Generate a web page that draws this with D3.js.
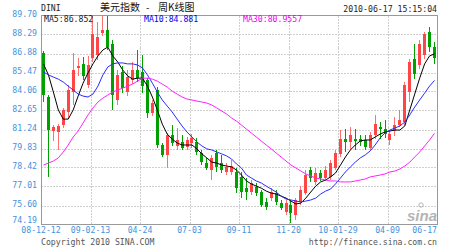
<!DOCTYPE html>
<html>
<head>
<meta charset="utf-8">
<script src="https://cdn.jsdelivr.net/npm/d3@7"></script>
<style>
  body { margin: 0; background: #fff; }
  svg { display: block; }
</style>
</head>
<body>
<script>
// DINI weekly K-line, 2008-12-12 .. 2010-06-17 (80 weeks)
const opens = [86.92,83.65,81.13,81.05,81.57,82.54,84.02,85.81,86.11,84.53,
  86.55,86.77,88.40,88.62,87.58,83.43,85.51,84.02,84.90,85.66,
  85.51,84.90,82.47,84.17,80.09,79.35,80.83,80.02,80.31,79.94,
  80.24,80.31,79.50,78.75,78.23,79.50,78.75,78.09,78.09,78.09,
  77.72,76.89,76.60,76.97,76.60,75.86,76.15,76.52,75.78,75.12,
  75.64,74.90,75.86,76.52,78.23,77.35,78.01,77.64,77.72,78.38,
  79.43,80.53,80.31,80.53,80.53,80.46,79.87,80.83,81.42,81.27,
  80.46,81.13,81.57,81.79,84.02,86.47,86.03,86.77,88.47,87.36];
const highs = [87.07,83.80,81.57,81.64,82.84,84.53,86.92,86.55,86.62,86.70,
  89.65,89.21,89.70,89.70,87.88,85.66,85.96,85.66,86.25,87.14,
  86.77,85.07,83.43,84.39,80.24,80.98,81.57,81.35,80.83,80.68,
  80.90,80.61,79.72,79.13,79.35,79.72,79.35,78.75,78.97,78.38,
  78.09,77.64,77.49,77.27,76.75,76.15,76.89,76.75,76.01,76.01,
  76.01,76.15,77.04,78.23,78.46,78.38,78.23,78.53,78.97,79.72,
  81.20,81.27,81.42,81.27,80.83,80.83,81.05,82.32,81.79,81.94,
  81.20,82.16,82.69,84.76,86.47,87.58,87.88,88.47,88.84,87.73];
const lows = [83.28,77.72,80.39,79.72,81.35,82.09,83.06,85.22,84.90,84.31,
  86.25,86.40,88.18,87.14,82.69,83.06,83.94,83.72,84.61,84.76,
  83.94,82.09,82.25,79.87,79.20,78.38,80.02,79.72,79.72,79.72,
  79.87,79.35,78.60,78.23,77.49,78.09,78.01,77.86,77.86,76.52,
  76.15,76.01,76.38,76.30,75.49,75.27,75.93,75.64,75.27,74.90,
  74.31,74.53,75.64,76.38,77.35,77.11,77.42,77.42,77.49,78.23,
  79.20,79.57,79.80,79.72,80.02,79.72,79.72,80.53,80.53,80.61,
  80.09,80.76,81.42,81.57,83.28,84.98,85.73,86.47,86.99,86.11];
const closes = [83.80,81.20,81.42,81.50,82.69,84.17,85.66,85.96,85.22,86.03,
  88.32,88.10,88.62,87.36,83.80,85.29,84.31,85.15,85.66,85.07,
  84.46,82.47,83.20,80.09,79.35,80.83,80.24,80.46,79.87,80.46,
  80.61,79.57,78.82,78.38,79.13,78.46,78.23,78.46,78.53,76.89,
  76.60,76.60,77.27,76.52,75.64,75.49,76.60,75.86,75.42,75.78,
  75.05,76.01,76.75,77.86,77.64,78.01,77.64,78.23,78.75,79.50,
  80.53,80.31,80.83,80.39,80.31,79.94,80.83,81.64,81.27,80.90,
  80.90,81.57,81.94,84.53,86.25,85.37,87.58,88.32,87.36,86.55];

// moving averages as drawn
const ma5 = [86.11,85.29,84.02,82.69,82.01,82.01,82.69,83.72,84.68,85.44,
  86.11,86.70,87.14,87.36,86.70,86.25,85.66,85.22,84.98,85.05,
  85.05,84.46,83.65,82.69,81.64,80.90,80.53,80.24,80.09,80.09,
  80.09,79.80,79.43,79.13,78.82,78.75,78.60,78.53,78.46,78.23,
  77.86,77.42,77.20,77.04,76.89,76.67,76.52,76.45,76.30,76.15,
  75.93,75.71,75.78,76.15,76.60,77.04,77.35,77.49,77.72,78.01,
  78.60,79.20,79.72,80.09,80.39,80.46,80.46,80.68,80.90,81.05,
  81.13,81.20,81.20,81.50,82.69,83.87,85.05,86.11,86.70,86.852];
const ma10 = [85.51,85.29,85.13,84.98,84.76,84.46,84.17,83.87,83.72,83.65,
  83.87,84.46,85.29,85.88,86.11,86.18,86.18,86.11,86.11,86.03,
  85.81,85.29,84.68,84.02,83.43,82.98,82.54,82.01,81.50,81.05,
  80.68,80.31,80.02,79.80,79.72,79.57,79.43,79.28,79.05,78.68,
  78.38,77.86,77.64,77.42,77.27,77.04,76.82,76.60,76.30,76.08,
  76.01,75.93,75.86,75.93,76.01,76.15,76.45,76.67,76.82,77.20,
  77.64,78.09,78.46,78.82,79.13,79.35,79.65,80.09,80.61,80.98,
  81.20,81.35,81.50,81.79,82.32,82.91,83.43,83.94,84.46,84.881];
const ma30 = [78.60,78.75,78.90,79.13,79.57,80.09,80.68,81.13,81.72,82.32,
  82.84,83.28,83.57,83.80,84.02,84.17,84.31,84.46,84.61,84.83,
  85.05,85.05,84.98,84.83,84.61,84.39,84.09,83.87,83.65,83.50,
  83.43,83.35,83.28,83.20,83.06,82.84,82.61,82.39,82.09,81.86,
  81.57,81.27,80.98,80.68,80.39,80.09,79.80,79.50,79.20,78.90,
  78.60,78.38,78.16,77.94,77.79,77.64,77.57,77.49,77.42,77.42,
  77.35,77.35,77.35,77.42,77.49,77.57,77.72,77.79,77.86,77.94,
  78.09,78.16,78.31,78.53,78.82,79.20,79.57,80.02,80.46,80.9557];

const yTicks = [89.70,88.29,86.88,85.47,84.06,82.65,81.24,79.83,78.42,77.01,75.60,74.19];
const xTickIdx = [0,10,20,30,40,50,60,70,80];
const xTickLabels = ["08-12-12","09-02-13","04-24","07-03","09-11","11-20","10-01-29","04-09","06-17"];

const width = 450, height = 248;
const plotLeft = 41, plotRight = 437, plotTop = 15.5, plotBottom = 224.5;
const mono = "'DejaVu Sans Mono', monospace";
const cjk = "'Noto Sans CJK SC', sans-serif";
const blueText = "#4592dc";
const upColor = "#ff4646", upWick = "#ff7070", downColor = "#00a000";

const svg = d3.select("body").append("svg")
    .attr("width", width)
    .attr("height", height);

const x = d3.scaleLinear().domain([0, opens.length]).range([plotLeft, plotRight]);
const y = d3.scaleLinear().domain([74.19, 89.70]).range([plotBottom, plotTop]);

// --- grid ---
const grid = svg.append("g")
    .attr("stroke", "#cfcfcf")
    .attr("stroke-dasharray", "2,1")
    .attr("shape-rendering", "crispEdges");

grid.selectAll("line.h")
    .data(yTicks.slice(1, -1))
    .join("line")
    .attr("class", "h")
    .attr("x1", plotLeft).attr("x2", plotRight)
    .attr("y1", d => Math.round(y(d)) + 0.5)
    .attr("y2", d => Math.round(y(d)) + 0.5);

grid.selectAll("line.v")
    .data(xTickIdx.slice(1, -1))
    .join("line")
    .attr("class", "v")
    .attr("x1", d => Math.ceil(x(d)) + 0.5)
    .attr("x2", d => Math.ceil(x(d)) + 0.5)
    .attr("y1", plotTop).attr("y2", plotBottom);

// frame
svg.append("rect")
    .attr("x", plotLeft + 0.5).attr("y", plotTop)
    .attr("width", plotRight - plotLeft).attr("height", plotBottom - plotTop)
    .attr("fill", "none")
    .attr("stroke", "#999")
    .attr("shape-rendering", "crispEdges");

// --- sina watermark ---
const logo = svg.append("g").attr("fill", "#b4b4b4").attr("stroke", "#b4b4b4");
logo.append("circle").attr("cx", 421).attr("cy", 205).attr("r", 2.2)
    .attr("fill", "none").attr("stroke-width", 1);
logo.append("text")
    .attr("x", 407).attr("y", 221)
    .attr("stroke", "none")
    .attr("font-family", "'Liberation Sans', Arial, sans-serif")
    .attr("font-size", 15)
    .attr("font-style", "italic")
    .attr("font-weight", "bold")
    .text("sina");

// --- candles ---
const bars = d3.range(opens.length);
const px = i => Math.round(x(i + 0.5) - 1.5);
const isUp = i => closes[i] >= opens[i];

const candles = svg.append("g").attr("shape-rendering", "crispEdges");

candles.selectAll("line")
    .data(bars)
    .join("line")
    .attr("x1", i => px(i) + 1.5)
    .attr("x2", i => px(i) + 1.5)
    .attr("y1", i => y(highs[i]))
    .attr("y2", i => y(lows[i]))
    .attr("stroke", i => isUp(i) ? upWick : downColor);

candles.selectAll("rect")
    .data(bars)
    .join("rect")
    .attr("x", px)
    .attr("width", 3)
    .attr("y", i => y(Math.max(opens[i], closes[i])))
    .attr("height", i => Math.max(1, Math.abs(y(opens[i]) - y(closes[i]))))
    .attr("fill", i => isUp(i) ? upColor : downColor);

// --- moving averages ---
const maLine = d3.line()
    .x((d, i) => x(i + 0.5))
    .y(d => y(d));

const maSeries = [
    {name: "MA5", values: ma5, color: "#000000", text: "#222", label: "MA5:86.852", lx: 44},
    {name: "MA10", values: ma10, color: "#2b2bff", text: "#0000ee", label: "MA10:84.881", lx: 144},
    {name: "MA30", values: ma30, color: "#ff22ff", text: "#ee00ee", label: "MA30:80.9557", lx: 243}
];

svg.append("g")
    .attr("fill", "none")
    .attr("stroke-width", 1)
    .selectAll("path")
    .data(maSeries)
    .join("path")
    .attr("stroke", d => d.color)
    .attr("d", d => maLine(d.values));

svg.append("g")
    .attr("font-family", mono)
    .attr("font-size", 8.2)
    .selectAll("text")
    .data(maSeries)
    .join("text")
    .attr("x", d => d.lx)
    .attr("y", 22)
    .attr("fill", d => d.text)
    .text(d => d.label);

// --- axis labels ---
svg.append("g")
    .attr("font-family", mono)
    .attr("font-size", 8.2)
    .attr("fill", blueText)
    .attr("text-anchor", "end")
    .selectAll("text")
    .data(yTicks)
    .join("text")
    .attr("x", 37)
    .attr("y", d => Math.min(y(d) + 1.8, 222.5))
    .text(d => d.toFixed(2));

svg.append("g")
    .attr("font-family", mono)
    .attr("font-size", 8.2)
    .attr("fill", blueText)
    .selectAll("text")
    .data(xTickIdx)
    .join("text")
    .attr("x", (d, i) => i === xTickIdx.length - 1 ? plotRight : x(d))
    .attr("y", 232.5)
    .attr("text-anchor", (d, i) => i === xTickIdx.length - 1 ? "end" : "middle")
    .text((d, i) => xTickLabels[i]);

// --- header / footer texts ---
svg.append("text")
    .attr("x", 41).attr("y", 11)
    .attr("font-family", mono).attr("font-size", 8.2)
    .attr("fill", "#222")
    .text("DINI");

svg.append("text").attr("x", 100).attr("y", 11)
    .attr("font-family", cjk).attr("font-size", 10).attr("fill", "#111")
    .text("美元指数");
svg.append("text").attr("x", 146).attr("y", 11)
    .attr("font-family", cjk).attr("font-size", 10).attr("fill", "#111")
    .text("-");
svg.append("text").attr("x", 158).attr("y", 11)
    .attr("font-family", cjk).attr("font-size", 10).attr("fill", "#111")
    .text("周K线图");

svg.append("text")
    .attr("x", plotRight).attr("y", 12)
    .attr("text-anchor", "end")
    .attr("font-family", mono).attr("font-size", 8.2)
    .attr("fill", "#222")
    .text("2010-06-17 15:15:04");

svg.append("text")
    .attr("x", 41).attr("y", 244.5)
    .attr("font-family", mono).attr("font-size", 8.2)
    .attr("fill", "#555")
    .text("Copyright 2010 SINA.COM");

svg.append("text")
    .attr("x", plotRight).attr("y", 244.5)
    .attr("text-anchor", "end")
    .attr("font-family", mono).attr("font-size", 8.2)
    .attr("fill", "#555")
    .text("http://finance.sina.com.cn");
</script>
</body>
</html>
